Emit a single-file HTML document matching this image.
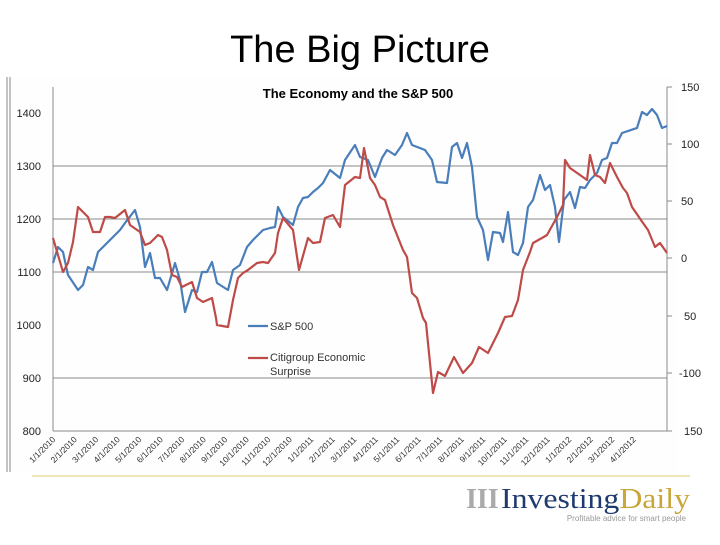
<!DOCTYPE html>
<html><head><meta charset="utf-8"><style>
body{margin:0;width:720px;height:540px;background:#fff;overflow:hidden;font-family:"Liberation Sans",sans-serif}
</style></head><body>
<svg width="720" height="540" viewBox="0 0 720 540" xmlns="http://www.w3.org/2000/svg">
<text x="360" y="62" font-size="38" text-anchor="middle" font-family="Liberation Sans">The Big Picture</text>
<rect x="8" y="77" width="670" height="395" fill="#fdfefd"/>
<line x1="7" y1="77" x2="7" y2="472" stroke="#888" stroke-width="1"/>
<line x1="10" y1="77" x2="10" y2="472" stroke="#888" stroke-width="1"/>
<text x="358" y="98" font-size="13" font-weight="bold" text-anchor="middle">The Economy and the S&amp;P 500</text>
<g stroke="#8a8a8a" stroke-width="1">
<line x1="53" y1="166" x2="667" y2="166"/><line x1="53" y1="219" x2="667" y2="219"/>
<line x1="53" y1="272" x2="667" y2="272"/><line x1="53" y1="378" x2="667" y2="378"/>
<line x1="53" y1="87" x2="53" y2="431"/><line x1="53" y1="431" x2="667" y2="431"/>
<line x1="667" y1="87" x2="667" y2="431"/>
<line x1="667" y1="87" x2="672" y2="87"/><line x1="667" y1="144" x2="672" y2="144"/>
<line x1="667" y1="201" x2="672" y2="201"/><line x1="667" y1="258" x2="672" y2="258"/>
<line x1="667" y1="316" x2="672" y2="316"/><line x1="667" y1="373" x2="672" y2="373"/>
<line x1="667" y1="431" x2="672" y2="431"/>
</g>
<g font-size="11" fill="#222" text-anchor="end">
<text x="41" y="117">1400</text><text x="41" y="170">1300</text><text x="41" y="223">1200</text>
<text x="41" y="276">1100</text><text x="41" y="329">1000</text><text x="41" y="382">900</text><text x="41" y="435">800</text>
</g>
<g font-size="11" fill="#222">
<text x="681" y="91">150</text><text x="681" y="148">100</text><text x="681" y="205">50</text>
<text x="681" y="262">0</text><text x="684" y="320">50</text><text x="679" y="377">-100</text><text x="684" y="435">150</text>
</g>
<polyline fill="none" stroke="#4a7ebb" stroke-width="2.2" stroke-linejoin="round" points="53,263 58,247 63,252 68,275 78,290 83,285 88,267 93,270 98,252 110,240 120,230 125,223 135,210 140,227 145,267 150,253 155,278 160,278 167,290 175,263 180,280 185,312 192,290 197,292 202,272 207,272 212,262 217,283 228,290 233,270 240,265 247,247 253,240 258,235 263,230 270,228 275,227 278,207 283,217 293,225 298,207 303,198 308,197 313,192 318,188 323,183 330,170 340,178 345,160 355,145 360,157 368,160 375,177 382,158 387,150 395,155 402,145 407,133 412,145 425,150 432,160 437,182 447,183 452,147 457,143 462,158 467,143 472,167 477,217 483,230 488,260 493,232 500,233 503,242 508,212 513,252 518,255 523,243 528,207 533,200 540,175 545,190 550,185 555,207 559,242 564,200 570,192 575,208 580,187 585,188 590,180 597,173 602,160 607,158 612,143 617,143 622,133 637,128 642,112 647,115 652,109 657,115 662,128 667,126"/>
<polyline fill="none" stroke="#be4b48" stroke-width="2.2" stroke-linejoin="round" points="53,238 63,272 68,263 73,242 78,207 88,217 93,232 100,232 105,217 110,217 115,218 125,210 130,225 140,232 145,245 150,243 158,235 162,237 167,250 172,275 177,277 182,287 192,282 197,298 203,302 212,298 216,318 217,325 228,327 233,300 238,278 243,273 248,270 257,263 263,262 268,263 275,253 278,233 283,218 293,230 299,270 308,238 313,243 320,242 325,218 333,215 340,227 345,185 355,177 360,178 364,148 370,178 375,185 380,197 385,200 393,225 403,250 407,257 412,293 417,298 423,318 426,323 433,393 438,372 445,376 454,357 463,373 472,363 479,347 488,353 498,333 505,317 512,316 518,300 523,270 530,252 533,243 542,238 547,235 557,217 563,205 565,160 570,168 580,175 587,180 590,155 595,175 600,177 605,183 610,163 617,177 623,188 627,193 632,207 643,223 648,230 655,247 660,243 667,253"/>
<line x1="248" y1="326" x2="268" y2="326" stroke="#4a7ebb" stroke-width="2.2"/>
<text x="270" y="330" font-size="11" fill="#333">S&amp;P 500</text>
<line x1="248" y1="358" x2="268" y2="358" stroke="#be4b48" stroke-width="2.2"/>
<text x="270" y="361" font-size="11" fill="#333">Citigroup Economic</text>
<text x="270" y="375" font-size="11" fill="#333">Surprise</text>
<line x1="32" y1="476" x2="690" y2="476" stroke="#ece6b8" stroke-width="2"/>
<text x="466" y="508" font-size="28" font-family="Liberation Serif" fill="#aaa" font-weight="bold">III</text>
<text x="501" y="508" font-size="28" font-family="Liberation Serif" fill="#1f3a6e" textLength="189" lengthAdjust="spacingAndGlyphs">Investing<tspan fill="#c9a53a">Daily</tspan></text>
<text x="686" y="521" font-size="8" fill="#999" text-anchor="end">Profitable advice for smart people</text>
<g font-size="8.5" fill="#333">
<text transform="translate(56,440) rotate(-45)" text-anchor="end">1/1/2010</text>
<text transform="translate(77.5,440) rotate(-45)" text-anchor="end">2/1/2010</text>
<text transform="translate(99,440) rotate(-45)" text-anchor="end">3/1/2010</text>
<text transform="translate(120.5,440) rotate(-45)" text-anchor="end">4/1/2010</text>
<text transform="translate(142,440) rotate(-45)" text-anchor="end">5/1/2010</text>
<text transform="translate(163.5,440) rotate(-45)" text-anchor="end">6/1/2010</text>
<text transform="translate(185,440) rotate(-45)" text-anchor="end">7/1/2010</text>
<text transform="translate(206.5,440) rotate(-45)" text-anchor="end">8/1/2010</text>
<text transform="translate(228,440) rotate(-45)" text-anchor="end">9/1/2010</text>
<text transform="translate(249.5,440) rotate(-45)" text-anchor="end">10/1/2010</text>
<text transform="translate(271,440) rotate(-45)" text-anchor="end">11/1/2010</text>
<text transform="translate(292.5,440) rotate(-45)" text-anchor="end">12/1/2010</text>
<text transform="translate(314,440) rotate(-45)" text-anchor="end">1/1/2011</text>
<text transform="translate(335.5,440) rotate(-45)" text-anchor="end">2/1/2011</text>
<text transform="translate(357,440) rotate(-45)" text-anchor="end">3/1/2011</text>
<text transform="translate(378.5,440) rotate(-45)" text-anchor="end">4/1/2011</text>
<text transform="translate(400,440) rotate(-45)" text-anchor="end">5/1/2011</text>
<text transform="translate(421.5,440) rotate(-45)" text-anchor="end">6/1/2011</text>
<text transform="translate(443,440) rotate(-45)" text-anchor="end">7/1/2011</text>
<text transform="translate(464.5,440) rotate(-45)" text-anchor="end">8/1/2011</text>
<text transform="translate(486,440) rotate(-45)" text-anchor="end">9/1/2011</text>
<text transform="translate(507.5,440) rotate(-45)" text-anchor="end">10/1/2011</text>
<text transform="translate(529,440) rotate(-45)" text-anchor="end">11/1/2011</text>
<text transform="translate(550.5,440) rotate(-45)" text-anchor="end">12/1/2011</text>
<text transform="translate(572,440) rotate(-45)" text-anchor="end">1/1/2012</text>
<text transform="translate(593.5,440) rotate(-45)" text-anchor="end">2/1/2012</text>
<text transform="translate(615,440) rotate(-45)" text-anchor="end">3/1/2012</text>
<text transform="translate(636.5,440) rotate(-45)" text-anchor="end">4/1/2012</text>
</g>
</svg>
</body></html>
